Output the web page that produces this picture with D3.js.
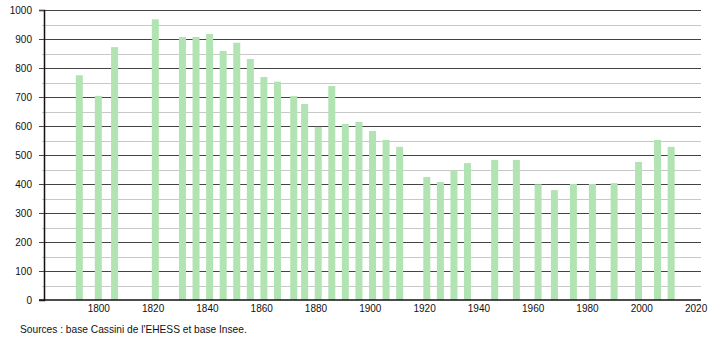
<!DOCTYPE html>
<html>
<head>
<meta charset="utf-8">
<script src="https://cdn.jsdelivr.net/npm/d3@7"></script>
<style>
  body { margin: 0; background: #fff; }
  text { font-family: "Liberation Sans", Arial, sans-serif; fill: #111; }
</style>
</head>
<body>
<div id="chart"></div>
<script>
// census years and population
const years = [1793, 1800, 1806, 1821, 1831, 1836, 1841, 1846, 1851, 1856, 1861, 1866,
  1872, 1876, 1881, 1886, 1891, 1896, 1901, 1906, 1911, 1921, 1926, 1931, 1936,
  1946, 1954, 1962, 1968, 1975, 1982, 1990, 1999, 2006, 2011];
const population = [775, 704, 872, 968, 907, 907, 917, 859, 887, 831, 769, 753,
  703, 676, 597, 738, 607, 614, 583, 552, 528, 424, 407, 447, 472,
  483, 483, 399, 379, 400, 400, 403, 476, 552, 528];
const xTicks = [1800, 1820, 1840, 1860, 1880, 1900, 1920, 1940, 1960, 1980, 2000, 2020];
const yTicks = [0, 100, 200, 300, 400, 500, 600, 700, 800, 900, 1000];
const yMinor = [50, 150, 250, 350, 450, 550, 650, 750, 850, 950];

const width = 710, height = 340;
const margin = { top: 10, right: 9, bottom: 40, left: 44 };
const innerWidth = width - margin.left - margin.right;
const innerHeight = height - margin.top - margin.bottom;

const svg = d3.select("#chart")
  .append("svg")
  .attr("width", width)
  .attr("height", height);

const g = svg.append("g")
  .attr("transform", `translate(${margin.left}, ${margin.top})`);

const xScale = d3.scaleLinear()
  .domain([1780, 2022])
  .range([0, innerWidth]);

const yScale = d3.scaleLinear()
  .domain([0, 1000])
  .range([innerHeight, 0]);

// gridlines: minor light, major dark
g.selectAll("line.minor")
  .data(yMinor)
  .join("line")
  .attr("class", "minor")
  .attr("x1", -2).attr("x2", innerWidth)
  .attr("y1", d => Math.round(yScale(d)) + 0.5)
  .attr("y2", d => Math.round(yScale(d)) + 0.5)
  .attr("stroke", "#c8c8c8");

g.selectAll("line.major")
  .data(yTicks.filter(d => d > 0))
  .join("line")
  .attr("class", "major")
  .attr("x1", -5).attr("x2", innerWidth)
  .attr("y1", d => Math.round(yScale(d)) + 0.5)
  .attr("y2", d => Math.round(yScale(d)) + 0.5)
  .attr("stroke", "#444");

// bars
const barW = 7;
g.selectAll("rect.bar")
  .data(years.map((y, i) => ({ year: y, value: population[i] })))
  .join("rect")
  .attr("class", "bar")
  .attr("x", d => xScale(d.year) - barW / 2)
  .attr("y", d => yScale(d.value))
  .attr("width", barW)
  .attr("height", d => innerHeight - yScale(d.value))
  .attr("fill", "#b2e3b2");

// y axis
const yAxis = d3.axisLeft(yScale)
  .tickValues(yTicks)
  .tickSize(5)
  .tickPadding(7)
  .tickFormat(d3.format("d"));
const yG = g.append("g").call(yAxis);
yG.select(".domain").attr("stroke", "#111").attr("stroke-width", 1.5);
yG.selectAll(".tick line").attr("stroke", "#444");
yG.selectAll("text").style("font-size", "10px").attr("fill", "#111");

// x axis (labels only, no ticks)
const xAxis = d3.axisBottom(xScale)
  .tickValues(xTicks)
  .tickSize(0)
  .tickPadding(5)
  .tickFormat(d3.format("d"));
const xG = g.append("g")
  .attr("transform", `translate(0, ${innerHeight})`)
  .call(xAxis);
xG.select(".domain").remove();
xG.selectAll("text").style("font-size", "10px").attr("fill", "#111");

g.append("line")
  .attr("x1", -5).attr("x2", innerWidth)
  .attr("y1", innerHeight).attr("y2", innerHeight)
  .attr("stroke", "#111")
  .attr("stroke-width", 1.5);

svg.append("text")
  .attr("x", 20)
  .attr("y", 333)
  .style("font-size", "10.2px")
  .text("Sources : base Cassini de l'EHESS et base Insee.");
</script>
</body>
</html>
